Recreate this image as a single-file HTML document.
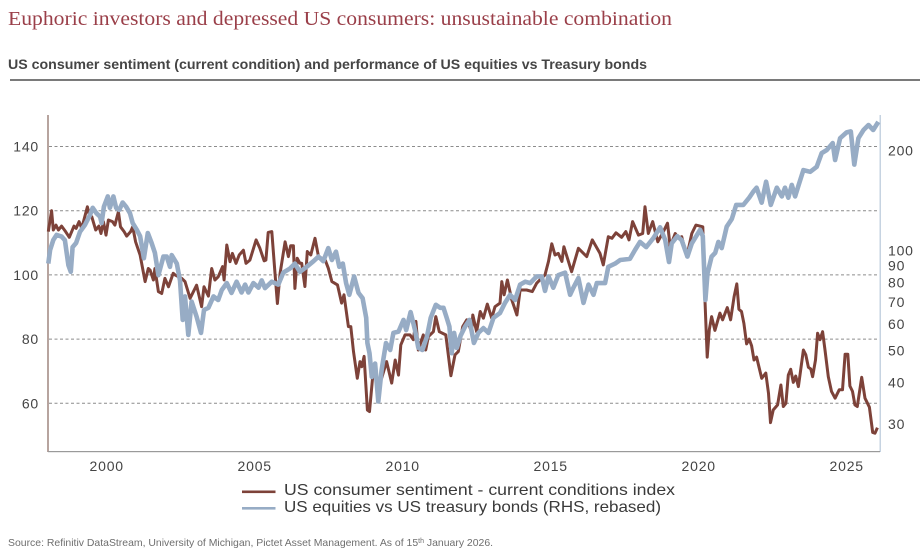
<!DOCTYPE html>
<html lang="en">
<head>
<meta charset="utf-8">
<title>Euphoric investors and depressed US consumers</title>
<style>
html,body{margin:0;padding:0;background:#fff;}
body{width:920px;height:548px;overflow:hidden;}
svg{display:block;}
text{font-family:"Liberation Sans",sans-serif;}
</style>
</head>
<body>
<svg id="chart" width="920" height="548" viewBox="0 0 920 548" xmlns="http://www.w3.org/2000/svg">
<text x="8" y="25" style="font-family:'Liberation Serif',serif" font-size="20" fill="#9a3f49" textLength="664" lengthAdjust="spacingAndGlyphs">Euphoric investors and depressed US consumers: unsustainable combination</text>
<text x="8" y="69" font-size="14" font-weight="700" fill="#454545" textLength="639" lengthAdjust="spacingAndGlyphs">US consumer sentiment (current condition) and performance of US equities vs Treasury bonds</text>
<rect x="10" y="79" width="910" height="2" fill="#7a7a7a"/>
<g id="grid"></g>
<rect x="47" y="115" width="2" height="337" fill="#b7a49f"/>
<rect x="879.5" y="115" width="1.5" height="337" fill="#c6d3e1"/>
<rect x="48" y="451" width="832" height="1.2" fill="#9a9a9a"/>
<g id="leftTicks"></g>
<g id="rightTicks"></g>
<g id="xTicks"></g>
<path id="sentimentLine" fill="none" stroke="#7d4239" stroke-width="3" stroke-linejoin="round"/>
<path id="equityLine" fill="none" stroke="#97acc5" stroke-width="4.6" stroke-linejoin="round"/>
<g>
<rect x="242" y="490.5" width="33.5" height="2.6" fill="#7d4239"/>
<text x="284" y="495" font-size="16" fill="#3a3a3a" textLength="391" lengthAdjust="spacingAndGlyphs">US consumer sentiment - current conditions index</text>
<rect x="242" y="507" width="33.5" height="2.6" fill="#97acc5"/>
<text x="284" y="512" font-size="16" fill="#3a3a3a" textLength="377" lengthAdjust="spacingAndGlyphs">US equities vs US treasury bonds (RHS, rebased)</text>
</g>
<text x="8" y="546" font-size="10.45" fill="#6e6e6e">Source: Refinitiv DataStream, University of Michigan, Pictet Asset Management. As of 15<tspan font-size="7" dy="-3">th</tspan><tspan dy="3"> January 2026.</tspan></text>
</svg>
<script>
const leftTickValues = [60, 80, 100, 120, 140];
const rightTickValues = [30, 40, 50, 60, 70, 80, 90, 100, 200];
const xTickYears = [2000, 2005, 2010, 2015, 2020, 2025];

const sentimentYears = [1998.01,1998.12,1998.18,1998.27,1998.35,1998.46,1998.57,1998.72,1998.88,1998.95,1999.05,1999.14,1999.33,1999.40,1999.48,1999.61,1999.72,1999.79,1999.87,1999.96,2000.04,2000.18,2000.26,2000.38,2000.45,2000.57,2000.66,2000.79,2000.86,2000.96,2001.11,2001.28,2001.39,2001.45,2001.56,2001.61,2001.73,2001.84,2001.95,2002.07,2002.23,2002.29,2002.52,2002.63,2002.80,2003.02,2003.19,2003.27,2003.42,2003.53,2003.64,2003.75,2003.90,2003.95,2004.04,2004.15,2004.23,2004.35,2004.46,2004.60,2004.69,2004.82,2005.03,2005.16,2005.30,2005.36,2005.44,2005.56,2005.67,2005.75,2005.84,2006.01,2006.12,2006.20,2006.29,2006.34,2006.42,2006.51,2006.57,2006.68,2006.76,2006.88,2007.02,2007.14,2007.36,2007.47,2007.59,2007.78,2007.92,2008.00,2008.15,2008.23,2008.32,2008.45,2008.54,2008.60,2008.68,2008.79,2008.86,2008.99,2009.16,2009.27,2009.44,2009.61,2009.73,2009.84,2009.92,2010.06,2010.23,2010.34,2010.43,2010.51,2010.68,2010.76,2010.85,2011.02,2011.10,2011.22,2011.44,2011.53,2011.61,2011.75,2011.86,2012.01,2012.15,2012.31,2012.35,2012.48,2012.60,2012.71,2012.84,2012.99,2013.10,2013.27,2013.33,2013.41,2013.52,2013.67,2013.84,2013.95,2014.17,2014.36,2014.51,2014.68,2014.79,2014.91,2015.02,2015.13,2015.24,2015.36,2015.43,2015.69,2015.92,2016.20,2016.39,2016.65,2016.76,2016.93,2017.05,2017.19,2017.38,2017.52,2017.63,2017.75,2017.95,2018.09,2018.17,2018.28,2018.43,2018.60,2018.79,2018.93,2019.02,2019.19,2019.30,2019.41,2019.58,2019.75,2019.89,2020.12,2020.20,2020.27,2020.34,2020.42,2020.53,2020.70,2020.79,2020.95,2021.06,2021.18,2021.27,2021.34,2021.43,2021.51,2021.60,2021.69,2021.77,2021.85,2021.94,2022.11,2022.25,2022.34,2022.41,2022.50,2022.65,2022.76,2022.84,2022.93,2023.01,2023.09,2023.18,2023.26,2023.35,2023.52,2023.60,2023.69,2023.77,2023.83,2023.93,2024.00,2024.08,2024.17,2024.25,2024.36,2024.47,2024.59,2024.73,2024.84,2024.93,2025.02,2025.09,2025.18,2025.26,2025.34,2025.49,2025.60,2025.75,2025.86,2025.94,2026.02];
const sentimentValues = [113.5,120,114,115.5,114,115.2,113.8,111.7,115.2,114.5,116.6,114.5,121.2,118.6,118.1,114,115.2,112.9,116.6,112.4,117.1,116.6,115.5,119.7,115,113.5,112.1,113.5,115,110.3,106.2,97.9,102,101.5,98.4,102,94.8,94.2,98.9,96.3,100.5,100,98.9,97.9,92.7,96.8,90.1,96.3,93.4,102,98.4,99.4,102.6,98.4,109.3,104.1,106.7,103.6,106.2,107.7,103.6,104.6,110.9,108.3,104.4,104.6,113.2,113.5,100.5,91.1,100.5,110.3,105.7,109.1,109.1,95.8,105.2,103.6,103.6,96.4,107.3,106.2,111.4,105.7,104.7,102.1,97.9,96.9,91.2,93.8,83.9,83.9,76.1,67.8,73,71.4,74.6,57.9,57.4,70.4,66.3,67.8,73,66.3,73.5,68.8,78.2,81.3,81.3,79.8,85.5,76.6,81.3,76.6,80.8,82.3,87,82.3,81.3,74.6,68.6,75.1,76.1,83.9,86,82.3,87.5,82.3,88.6,86.5,90.9,86.5,90.1,91.2,97.9,93.8,98.4,92.2,87.5,95.3,95.3,94.8,97.4,99,100,104.2,109.7,106.2,106.7,104.2,108.8,101,108.3,105.7,110.9,106.7,103.1,111.9,111.4,113.1,111.7,113.5,110.9,116.6,112.4,112.9,121.2,112.9,116.6,110.3,113.5,116.1,108.8,112.9,111.4,111.9,105.7,112.9,115.5,115,91.1,74.4,82.9,87,82.7,88.1,86,89.8,86,93.2,97.2,89.3,88.6,84.9,78.5,80,77.9,73.5,74.4,67.8,69.4,63.1,54,57.9,59.5,65.7,59,60,68.8,70.6,66.5,68.5,65.2,76.6,75.1,71.2,70.7,68.3,73.5,81.8,79.8,82.3,76.6,68.3,63.7,61.6,64.2,64.2,75.3,75.3,65.4,63.7,59.5,59,68.1,61.6,58.8,50.9,50.7,52.4];

const equityYears = [1998.01,1998.07,1998.18,1998.29,1998.46,1998.57,1998.69,1998.77,1998.83,1998.95,1999.08,1999.25,1999.42,1999.51,1999.64,1999.76,1999.81,1999.89,2000.02,2000.09,2000.21,2000.30,2000.41,2000.52,2000.64,2000.77,2000.86,2001.00,2001.11,2001.24,2001.37,2001.50,2001.61,2001.73,2001.90,2002.01,2002.12,2002.18,2002.35,2002.46,2002.55,2002.63,2002.74,2002.85,2003.02,2003.17,2003.27,2003.42,2003.59,2003.75,2003.87,2004.04,2004.20,2004.37,2004.54,2004.66,2004.77,2004.94,2005.11,2005.22,2005.33,2005.56,2005.78,2005.95,2006.18,2006.34,2006.51,2006.74,2006.97,2007.14,2007.30,2007.47,2007.59,2007.73,2007.84,2007.96,2008.07,2008.18,2008.34,2008.49,2008.63,2008.75,2008.79,2008.86,2008.94,2009.05,2009.16,2009.27,2009.42,2009.56,2009.67,2009.84,2010.01,2010.10,2010.25,2010.40,2010.51,2010.65,2010.80,2010.93,2011.10,2011.25,2011.36,2011.47,2011.56,2011.64,2011.72,2011.81,2011.94,2012.09,2012.24,2012.39,2012.54,2012.71,2012.88,2013.05,2013.27,2013.44,2013.61,2013.78,2013.95,2014.12,2014.29,2014.51,2014.68,2014.79,2014.91,2015.07,2015.24,2015.47,2015.64,2015.75,2015.92,2016.09,2016.26,2016.43,2016.54,2016.82,2016.93,2017.16,2017.33,2017.66,2017.83,2018.00,2018.21,2018.45,2018.68,2018.85,2018.98,2019.07,2019.26,2019.41,2019.60,2019.75,2020.03,2020.12,2020.21,2020.28,2020.42,2020.54,2020.65,2020.76,2020.93,2021.10,2021.25,2021.49,2021.69,2021.83,2021.94,2022.11,2022.26,2022.42,2022.62,2022.79,2022.90,2023.01,2023.13,2023.24,2023.35,2023.52,2023.75,2023.97,2024.14,2024.31,2024.51,2024.59,2024.76,2024.98,2025.12,2025.24,2025.38,2025.55,2025.72,2025.88,2026.05];
const equityValues = [91,100,107.2,111,109.7,107,90,86,102,105,113.5,119,127.5,134,129,126,120.5,135,145,134,145,134,132,139,135,129,120.5,115,110,94.5,112.5,105,98,84,95.5,95.5,89,96.5,91,81,61.6,72.5,55.5,70,63,56.3,66,67,72.5,70.7,75.8,79.5,74.3,80.3,74.5,78.7,74.5,79.5,77,81,76.8,80.3,78.7,85.5,88,91,86,89,92.5,95.5,92.5,101.3,93.3,98.8,89,91,79.5,73.3,83.3,74.3,71.6,62.5,52.5,48.9,41.5,45.5,35,43.5,52.5,50,56.3,56.8,61.6,57.4,65,57.4,50.8,50,54.8,62.5,68.4,67,67,62.5,58.8,48.9,56.3,50.7,55.2,58.8,61.6,52.5,56.3,58.2,56.3,62.5,64.6,69.3,73.3,70.7,78.7,80.3,79.5,83.3,83.3,75.3,83.3,77,84,85.5,73.3,77,82.3,69.3,78.7,73.3,79.5,79.5,89,91,93.3,94,100,105.8,102,108.5,117,107.2,92,104.7,110,107,95.5,104.7,115,110,70.7,85,95.5,98,105.8,101.3,117.5,124,136.7,136.7,143.7,150,154,138.8,160.6,136.7,154,145,154,143.7,157,145,156,174,172,178,195.8,200,209.8,186.6,217,226,227.5,180.8,217,229.7,237.8,229.7,243];

function xScale(year) {
  return 48 + (year - 1998) * 29.6;
}
function yLeft(value) {
  return 146.5 + (140 - value) * 3.21;
}
function yRight(value) {
  return 150 + 100 * Math.log2(200 / value);
}
function linePath(xs, ys, yFn) {
  return xs.map(function (x, i) {
    return (i ? 'L' : 'M') + xScale(x).toFixed(1) + ' ' + yFn(ys[i]).toFixed(1);
  }).join('');
}
const NS = 'http://www.w3.org/2000/svg';
function tickLabel(parent, x, y, anchor, str) {
  const t = document.createElementNS(NS, 'text');
  t.setAttribute('x', x);
  t.setAttribute('y', y);
  t.setAttribute('text-anchor', anchor);
  t.setAttribute('font-size', '14');
  t.setAttribute('letter-spacing', '0.8');
  t.setAttribute('fill', '#444');
  t.textContent = str;
  parent.appendChild(t);
  return t;
}
const grid = document.getElementById('grid');
leftTickValues.forEach(function (v) {
  const l = document.createElementNS(NS, 'line');
  
  
  l.setAttribute('x1', 49);
  l.setAttribute('x2', 880);
  l.setAttribute('y1', yLeft(v));
  l.setAttribute('y2', yLeft(v));
  l.setAttribute('stroke', '#8c8c8c');
  l.setAttribute('stroke-width', '1');
  l.setAttribute('stroke-dasharray', '3 2.5');
  grid.appendChild(l);
  const t = tickLabel(document.getElementById('leftTicks'), 39, yLeft(v) + 5, 'end', String(v));
  
  
});
rightTickValues.forEach(function (v) {
  const t = tickLabel(document.getElementById('rightTicks'), 888, yRight(v) + 5.5, 'start', String(v));
  
  
});
xTickYears.forEach(function (y) {
  const t = tickLabel(document.getElementById('xTicks'), xScale(y) - 0.5, 471, 'middle', String(y));
  
  
});
document.getElementById('sentimentLine').setAttribute('d', linePath(sentimentYears, sentimentValues, yLeft));
document.getElementById('equityLine').setAttribute('d', linePath(equityYears, equityValues, yRight));
</script>
</body>
</html>
